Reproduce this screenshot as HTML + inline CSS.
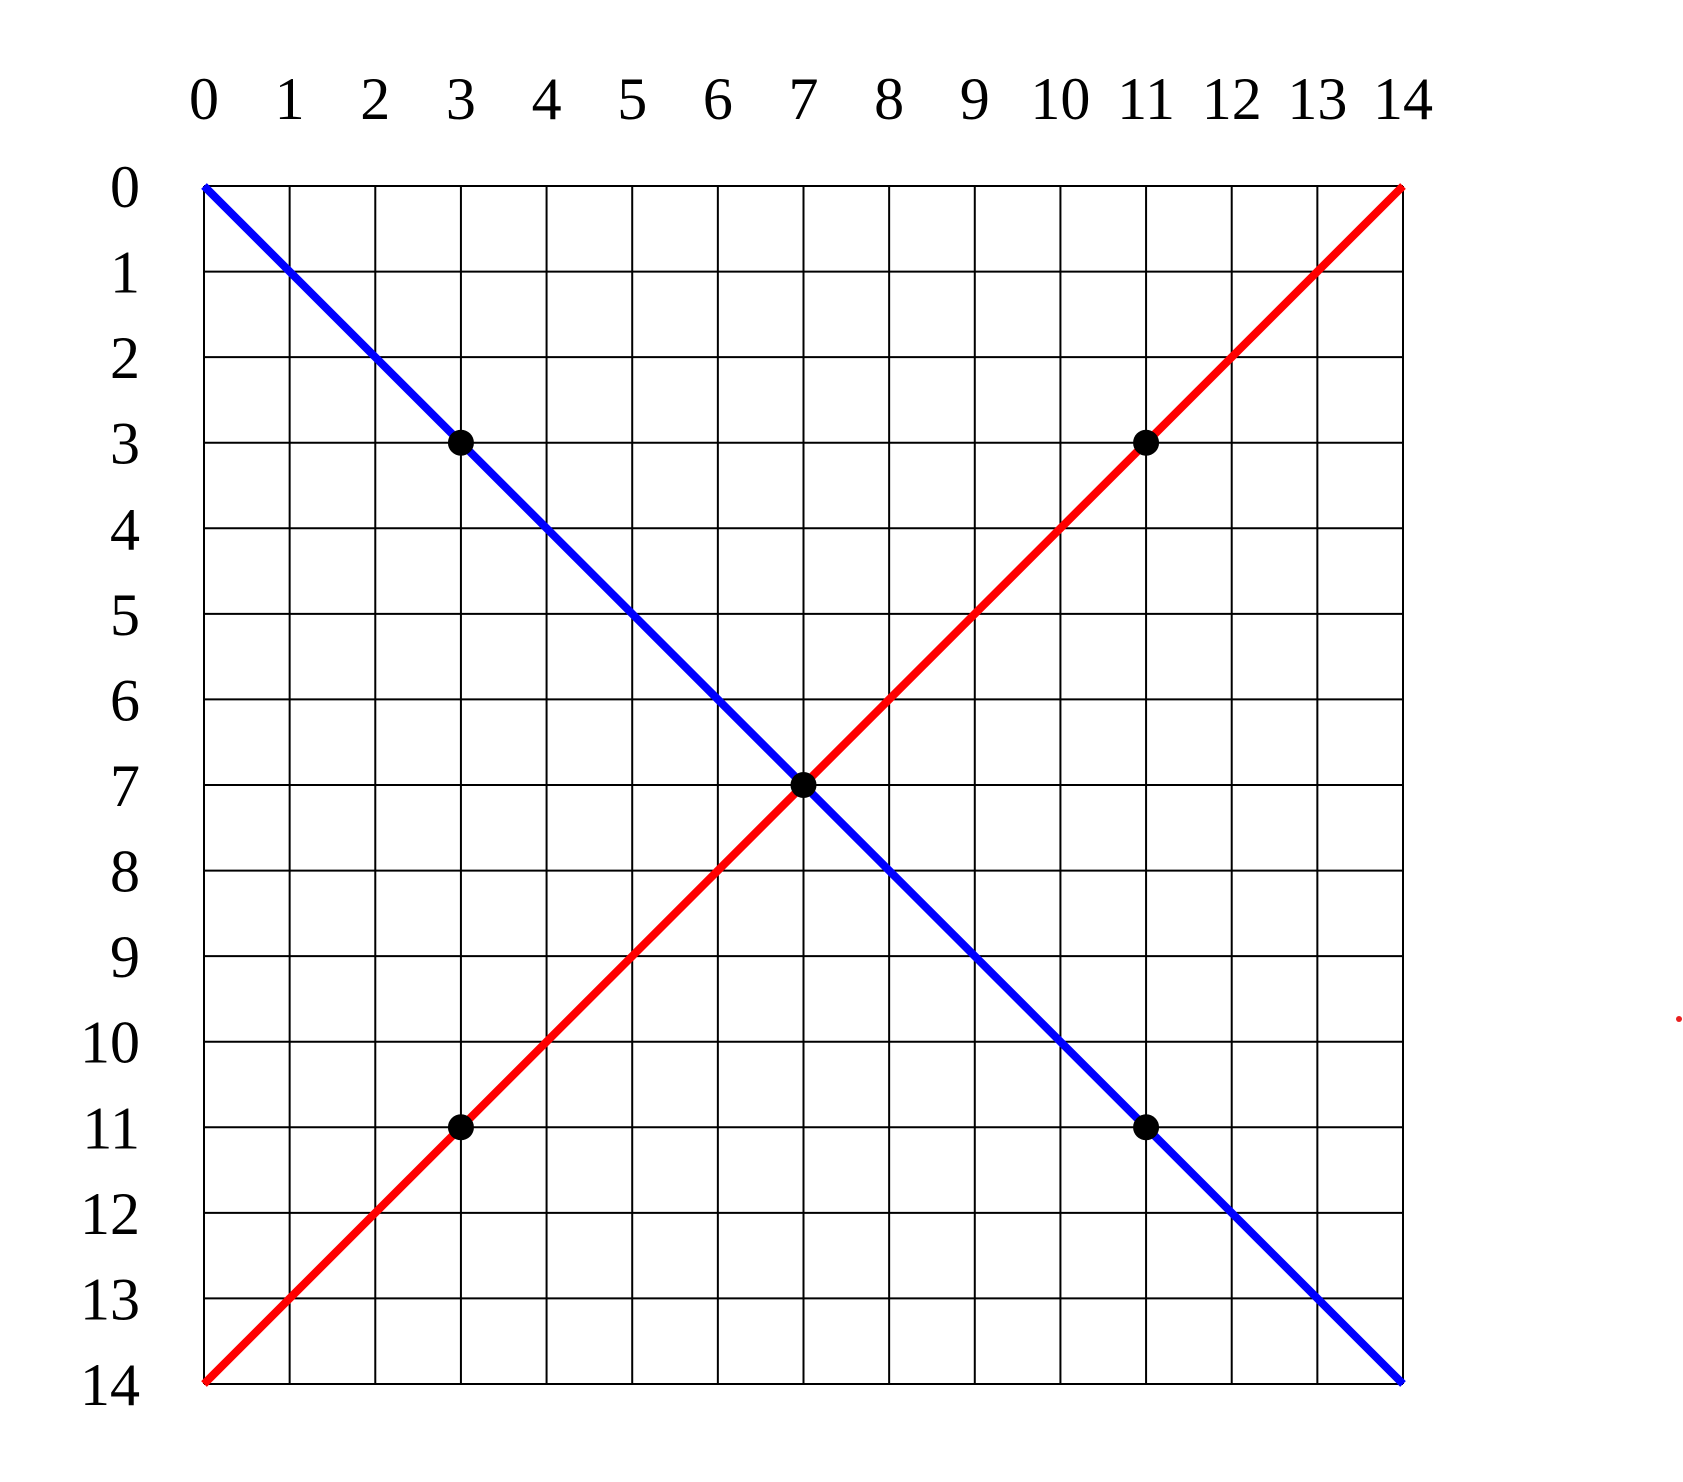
<!DOCTYPE html>
<html><head><meta charset="utf-8"><style>
html,body{margin:0;padding:0;background:#fff;}
svg{display:block;}
text{font-family:"Liberation Serif",serif;font-size:60px;fill:#000;}
</style></head><body>
<svg id="chart" width="1683" height="1482" viewBox="0 0 1683 1482" xmlns="http://www.w3.org/2000/svg">
<g id="grid"></g>
<g id="xlabels"></g>
<g id="ylabels"></g>
<g id="lines"></g>
<g id="points"></g>
<circle cx="1679" cy="1019" r="3" fill="#e82020"/>
</svg>
<script>
const xTicks=[0,1,2,3,4,5,6,7,8,9,10,11,12,13,14];
const yTicks=[0,1,2,3,4,5,6,7,8,9,10,11,12,13,14];
const blueLine=[[0,0],[14,14]];
const redLine=[[0,14],[14,0]];
const pointsX=[3,11,7,3,11];
const pointsY=[3,3,7,11,11];
const NS="http://www.w3.org/2000/svg";
const x0=204,x1=1403,y0=186,y1=1384;
const sx=v=>x0+(x1-x0)*v/14;
const sy=v=>y0+(y1-y0)*v/14;
function mk(tag,attrs,parent){const e=document.createElementNS(NS,tag);for(const k in attrs)e.setAttribute(k,attrs[k]);parent.appendChild(e);return e;}
const g=document.getElementById('grid');
xTicks.forEach(t=>{const l=mk('line',{x1:sx(t),x2:sx(t),y1:y0,y2:y1,stroke:'#000','stroke-width':2},g);

});
yTicks.forEach(t=>{const l=mk('line',{x1:x0,x2:x1,y1:sy(t),y2:sy(t),stroke:'#000','stroke-width':2},g);

});
const xl=document.getElementById('xlabels');
xTicks.forEach(t=>{const e=mk('text',{x:sx(t),y:119,'text-anchor':'middle'},xl);e.textContent=t;

});
const yl=document.getElementById('ylabels');
yTicks.forEach(t=>{const e=mk('text',{x:140,y:sy(t)+21,'text-anchor':'end'},yl);e.textContent=t;

});
const lg=document.getElementById('lines');
const b=mk('line',{x1:sx(blueLine[0][0]),y1:sy(blueLine[0][1]),x2:sx(blueLine[1][0]),y2:sy(blueLine[1][1]),stroke:'#0000ff','stroke-width':8},lg);


const r=mk('line',{x1:sx(redLine[0][0]),y1:sy(redLine[0][1]),x2:sx(redLine[1][0]),y2:sy(redLine[1][1]),stroke:'#ff0000','stroke-width':8},lg);


const pg=document.getElementById('points');
pointsX.forEach((px,i)=>{const c=mk('circle',{cx:sx(px),cy:sy(pointsY[i]),r:13,fill:'#000'},pg);

});
</script>
</body></html>
